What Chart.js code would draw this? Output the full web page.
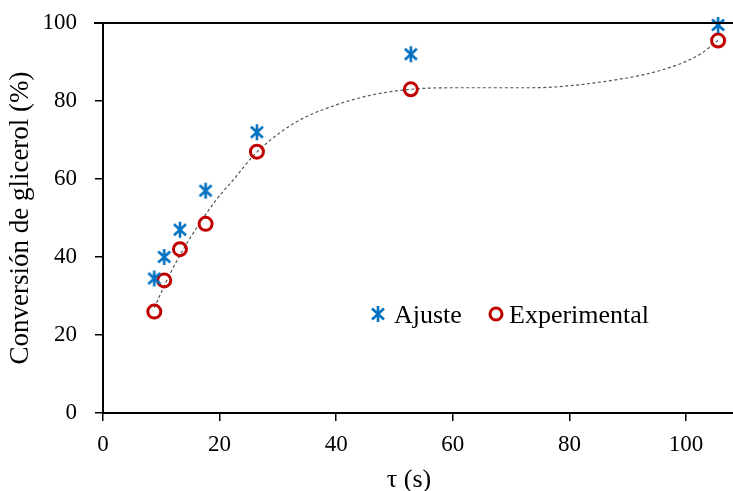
<!DOCTYPE html>
<html>
<head>
<meta charset="utf-8">
<script src="https://cdn.jsdelivr.net/npm/chart.js@4.4.0/dist/chart.umd.min.js"></script>
<style>
  html, body { margin: 0; padding: 0; background: #fff; overflow: hidden; width: 733px; height: 491px; }
</style>
</head>
<body>
<canvas id="chart" width="745" height="491"></canvas>
<script>
// tau (s)
var tau = [8.8, 10.5, 13.2, 17.6, 26.4, 52.8, 105.5];
var experimental = [26, 34, 42, 48.5, 67, 83, 95.5];
var ajuste = [34.5, 40, 47, 57, 72, 92, 99.5];

// dotted trend line
var trendX = [8.8, 11.4, 15, 19.4, 22.3, 26.4, 33, 40, 46, 52.8, 60, 73.5, 87.8, 96.4, 102.2, 105.5];
var trendY = [27, 35.4, 45, 54.6, 59.7, 66.9, 74.5, 79, 81.5, 83, 83.4, 83.4, 85.4, 88.2, 91.8, 95.5];

var xTicks = [0, 20, 40, 60, 80, 100];

var BLUE = '#0070C0';
var RED = '#C00000';
var FONT = '"Liberation Serif", "Times New Roman", serif';

function toPoints(xs, ys) {
  return xs.map(function (x, i) { return { x: x, y: ys[i] }; });
}

// six-armed asterisk marker
function makeStar() {
  var c = document.createElement('canvas');
  c.width = 18; c.height = 18;
  var g = c.getContext('2d');
  g.strokeStyle = BLUE;
  g.lineWidth = 2.6;
  g.beginPath();
  g.moveTo(3, 3.5); g.lineTo(15, 14.5);
  g.moveTo(15, 3.5); g.lineTo(3, 14.5);
  g.moveTo(9, 1); g.lineTo(9, 17);
  g.stroke();
  return c;
}
var star = makeStar();

var extras = {
  id: 'extras',
  afterDraw: function (chart) {
    var a = chart.chartArea, ctx = chart.ctx;
    ctx.save();
    // top border
    ctx.strokeStyle = '#000';
    ctx.lineWidth = 2;
    ctx.beginPath();
    ctx.moveTo(a.left - 9, a.top);
    ctx.lineTo(a.right + 5, a.top);
    ctx.stroke();

    // legend inside the plot
    ctx.drawImage(star, 378 - 9, 314 - 9);
    ctx.strokeStyle = RED;
    ctx.lineWidth = 3;
    ctx.beginPath();
    ctx.arc(496, 314, 6, 0, Math.PI * 2);
    ctx.stroke();
    ctx.fillStyle = '#000';
    ctx.font = '26px ' + FONT;
    ctx.textBaseline = 'alphabetic';
    ctx.fillText('Ajuste', 394, 323);
    ctx.fillText('Experimental', 509, 323);

    // x axis title
    ctx.textAlign = 'center';
    ctx.fillText('τ (s)', 409, 487);
    ctx.restore();
  }
};

var ctx = document.getElementById('chart').getContext('2d');
new Chart(ctx, {
  type: 'scatter',
  data: {
    datasets: [
      {
        label: 'Tendencia',
        data: toPoints(trendX, trendY),
        showLine: true,
        borderColor: '#555',
        borderWidth: 1.2,
        borderDash: [3, 2.5],
        pointRadius: 0,
        cubicInterpolationMode: 'monotone',
        order: 3
      },
      {
        label: 'Experimental',
        data: toPoints(tau, experimental),
        pointStyle: 'circle',
        pointRadius: 6.5,
        borderWidth: 3,
        borderColor: RED,
        backgroundColor: 'rgba(0,0,0,0)',
        order: 2
      },
      {
        label: 'Ajuste',
        data: toPoints(tau, ajuste),
        pointStyle: star,
        pointRadius: 9,
        order: 1
      }
    ]
  },
  options: {
    responsive: false,
    animation: false,
    clip: false,
    layout: { padding: { top: 23, right: 0, left: 0, bottom: 0 } },
    plugins: {
      legend: { display: false },
      tooltip: { enabled: false }
    },
    scales: {
      x: {
        type: 'linear',
        min: 0,
        max: 108.4,
        afterBuildTicks: function (s) { s.ticks = xTicks.map(function (v) { return { value: v }; }); },
        afterFit: function (s) { s.height = 78; },
        border: { color: '#000', width: 2 },
        grid: { drawOnChartArea: false, drawTicks: true, tickLength: 8, color: '#000', lineWidth: 1.5 },
        ticks: { color: '#000', font: { family: FONT, size: 23 }, padding: 10, maxRotation: 0 }
      },
      y: {
        min: 0,
        max: 100,
        ticks: { stepSize: 20, color: '#000', font: { family: FONT, size: 23 }, padding: 18 },
        afterFit: function (s) { s.width = 103; s.paddingTop = 0; s.paddingBottom = 0; },
        border: { color: '#000', width: 2 },
        grid: { drawOnChartArea: false, drawTicks: true, tickLength: 8, color: '#000', lineWidth: 1.5 },
        title: { display: true, text: 'Conversión de glicerol (%)', color: '#000', font: { family: FONT, size: 27 }, padding: { top: 5, bottom: 0 } }
      }
    }
  },
  plugins: [extras]
});
</script>
</body>
</html>
